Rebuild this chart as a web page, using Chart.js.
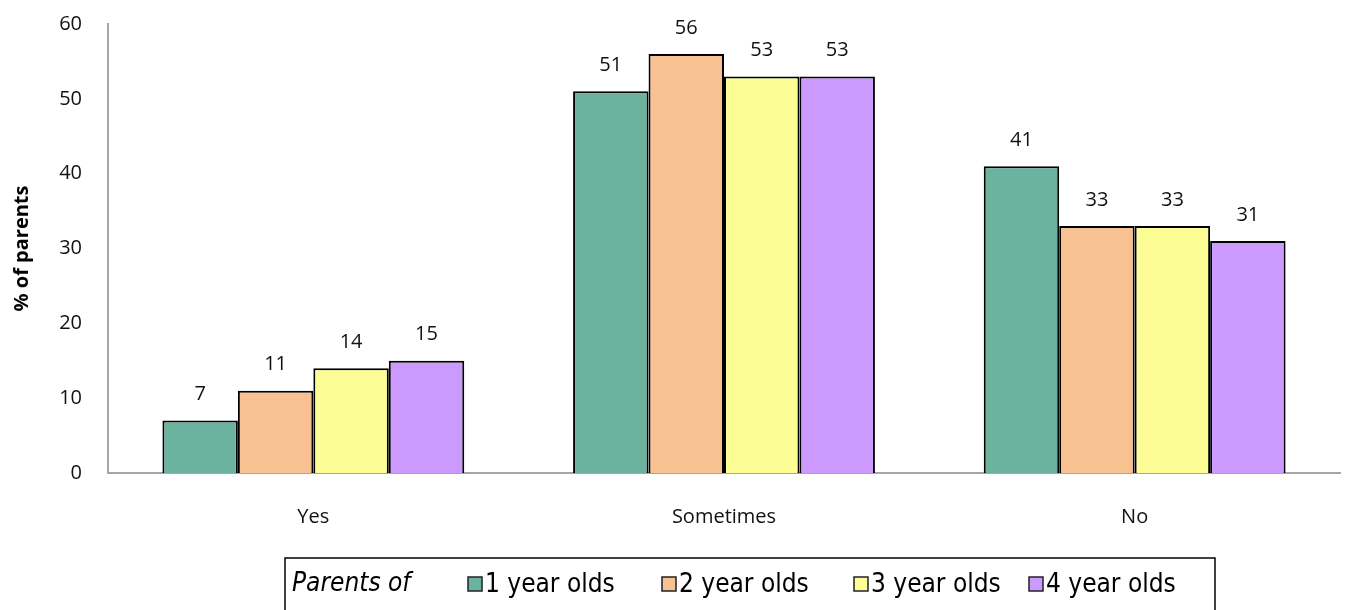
<!DOCTYPE html>
<html>
<head>
<meta charset="utf-8">
<script src="https://cdn.jsdelivr.net/npm/chart.js@4/dist/chart.umd.min.js"></script>
<style>
  html, body { margin: 0; padding: 0; background: #fff; }
  #wrap { position: relative; width: 1360px; height: 610px; }
</style>
</head>
<body>
<div id="wrap"><canvas id="c" width="1360" height="610"></canvas></div>
<script>
// Responses by age of child
const categories = ['Yes', 'Sometimes', 'No'];
const seriesNames = ['1 year olds', '2 year olds', '3 year olds', '4 year olds'];
const oneYear = [7, 51, 41];
const twoYear = [11, 56, 33];
const threeYear = [14, 53, 33];
const fourYear = [15, 53, 31];
const yTicks = [0, 10, 20, 30, 40, 50, 60];
const legendTitle = 'Parents of';

const colors = ['#6BB39E', '#F8C191', '#FDFD96', '#CC99FF'];
const axisFont = "'Open Sans', 'DejaVu Sans', sans-serif";
const legendFont = "'DejaVu Sans Condensed', 'Liberation Sans Narrow', 'Liberation Sans', sans-serif";

const datasets = [oneYear, twoYear, threeYear, fourYear].map((vals, i) => ({
  label: seriesNames[i],
  data: vals,
  backgroundColor: colors[i],
  borderColor: '#000',
  borderWidth: 2,
  borderSkipped: 'bottom',
  categoryPercentage: 0.735,
  barPercentage: 1.0
}));

// Value labels above each bar
const valueLabels = {
  id: 'valueLabels',
  afterDatasetsDraw(chart) {
    const ctx = chart.ctx;
    ctx.save();
    ctx.fillStyle = '#111';
    ctx.font = "20px " + axisFont;
    ctx.textAlign = 'center';
    ctx.textBaseline = 'middle';
    chart.data.datasets.forEach((ds, di) => {
      chart.getDatasetMeta(di).data.forEach((bar, i) => {
        ctx.fillText(String(ds.data[i]), bar.x, bar.y - 26);
      });
    });
    ctx.restore();
  }
};

// Boxed legend with an italic title, drawn under the axis
const boxedLegend = {
  id: 'boxedLegend',
  afterDraw(chart) {
    const ctx = chart.ctx;
    ctx.save();
    const left = 285, top = 558, right = 1215, bottom = 612;
    ctx.strokeStyle = '#000';
    ctx.lineWidth = 1.5;
    ctx.strokeRect(left, top, right - left, bottom - top);
    const cy = 584;
    ctx.textBaseline = 'middle';
    ctx.textAlign = 'left';
    ctx.fillStyle = '#000';
    ctx.font = "italic 26px " + legendFont;
    ctx.fillText(legendTitle, 292, cy);
    const starts = [468, 662, 854, 1029];
    ctx.font = "26px " + legendFont;
    chart.data.datasets.forEach((ds, i) => {
      const x = starts[i];
      ctx.fillStyle = ds.backgroundColor;
      ctx.fillRect(x, cy - 7, 14, 14);
      ctx.strokeStyle = '#222';
      ctx.lineWidth = 1.5;
      ctx.strokeRect(x, cy - 7, 14, 14);
      ctx.fillStyle = '#000';
      ctx.fillText(ds.label, x + 17, cy + 1);
    });
    ctx.restore();
  }
};

new Chart(document.getElementById('c'), {
  type: 'bar',
  data: { labels: categories, datasets },
  options: {
    responsive: false,
    animation: false,
    layout: { padding: { top: 24, right: 20, left: 0, bottom: 0 } },
    plugins: {
      legend: { display: false },
      tooltip: { enabled: false }
    },
    scales: {
      x: {
        grid: { display: false, drawTicks: false },
        border: { display: true, color: '#A6A6A6', width: 2 },
        ticks: { color: '#111', font: { family: axisFont, size: 20 }, padding: 32 },
        afterFit(scale) { scale.height = 137; }
      },
      y: {
        min: 0, max: 60,
        afterBuildTicks(scale) { scale.ticks = yTicks.map(v => ({ value: v })); },
        grid: { display: false, drawTicks: false },
        border: { display: true, color: '#A6A6A6', width: 2 },
        ticks: { color: '#111', font: { family: axisFont, size: 20 }, padding: 26 },
        title: {
          display: true,
          text: '% of parents',
          color: '#000',
          font: { family: axisFont, size: 20, weight: 'bold' },
          padding: { top: 10, bottom: 8 }
        },
        afterFit(scale) {
          scale.width = 108;
          scale.paddingTop = 0;
          scale.paddingBottom = 0;
        }
      }
    }
  },
  plugins: [valueLabels, boxedLegend]
});
</script>
</body>
</html>
